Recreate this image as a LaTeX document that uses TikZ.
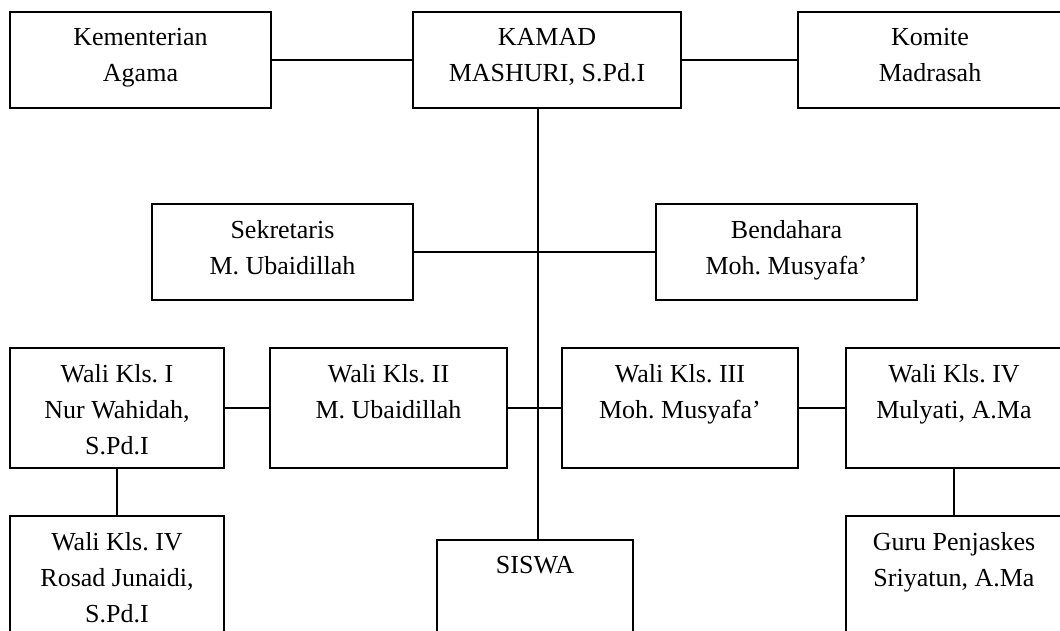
\documentclass[tikz,border=0pt]{standalone}
\usepackage{fontspec}
\setmainfont{Liberation Serif}
\usetikzlibrary{positioning}
\frenchspacing

\begin{document}
\begin{tikzpicture}[x=1pt, y=-1pt, line width=1.2pt,
		kotak/.style={draw, inner sep=0pt},
		isi/.style={align=center, inner sep=0pt, font=\fontsize{26}{36}\selectfont}]
		\useasboundingbox (0,0) rectangle (1060,631);
		\clip (0,0) rectangle (1060,631);
		\node[kotak, minimum width=261pt, minimum height=96pt] (kemenag) at (140.5,60) {};
		\node[kotak, minimum width=268pt, minimum height=96pt] (kamad) at (547,60) {};
		\node[kotak, minimum width=264pt, minimum height=96pt] (komite) at (930,60) {};
		\node[kotak, minimum width=261pt, minimum height=96pt] (sekre) at (282.5,252) {};
		\node[kotak, minimum width=261pt, minimum height=96pt] (benda) at (786.5,252) {};
		\node[kotak, minimum width=214pt, minimum height=120pt] (walisatu) at (117,408) {};
		\node[kotak, minimum width=237pt, minimum height=120pt] (walidua) at (388.5,408) {};
		\node[kotak, minimum width=236pt, minimum height=120pt] (walitiga) at (680,408) {};
		\node[kotak, minimum width=216pt, minimum height=120pt] (waliempat) at (954,408) {};
		\node[kotak, minimum width=214pt, minimum height=124pt] (rosad) at (117,578) {};
		\node[kotak, minimum width=196pt, minimum height=100pt] (siswa) at (535,590) {};
		\node[kotak, minimum width=216pt, minimum height=124pt] (guru) at (954,578) {};
		\node[isi, below=16pt of kemenag.north] {Kementerian\\Agama};
		\node[isi, below=16pt of kamad.north] {KAMAD\\MASHURI, S.Pd.I};
		\node[isi, below=16pt of komite.north] {Komite\\Madrasah};
		\node[isi, below=16pt of sekre.north] {Sekretaris\\M. Ubaidillah};
		\node[isi, below=16pt of benda.north] {Bendahara\\Moh. Musyafa'};
		\node[isi, below=16pt of walisatu.north] {Wali Kls. I\\Nur Wahidah,\\S.Pd.I};
		\node[isi, below=16pt of walidua.north] {Wali Kls. II\\M. Ubaidillah};
		\node[isi, below=16pt of walitiga.north] {Wali Kls. III\\Moh. Musyafa'};
		\node[isi, below=16pt of waliempat.north] {Wali Kls. IV\\Mulyati, A.Ma};
		\node[isi, below=16pt of rosad.north] {Wali Kls. IV\\Rosad Junaidi,\\S.Pd.I};
		\node[isi, below=16pt of siswa.north] {SISWA};
		\node[isi, below=16pt of guru.north] {Guru Penjaskes\\Sriyatun, A.Ma};
		\coordinate (batang) at (538,0);
		\draw (kemenag.east) -- (kamad.west);
		\draw (kamad.east) -- (komite.west);
		\draw (kamad.south -| batang) -- (siswa.north -| batang);
		\draw (sekre.east) -- (benda.west);
		\draw (walisatu.east) -- (walidua.west);
		\draw (walidua.east) -- (walitiga.west);
		\draw (walitiga.east) -- (waliempat.west);
		\draw (walisatu.south) -- (rosad.north);
		\draw (waliempat.south) -- (guru.north);
	\end{tikzpicture}
\end{document}
